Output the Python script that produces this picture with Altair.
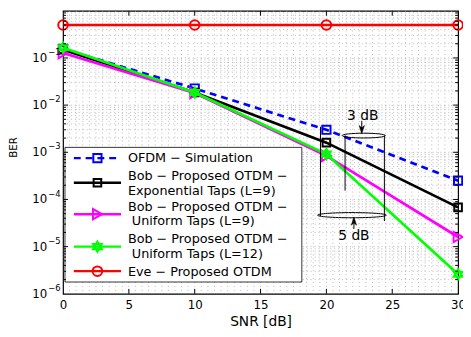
import altair as alt
import numpy as np
import pandas as pd

# ---------------- data ----------------
snr = [0, 10, 20, 30]
ber_ofdm = [0.155, 0.0225, 0.0030, 2.5e-4]
ber_exp9 = [0.150, 0.0185, 0.0016, 6.8e-5]
ber_uni9 = [0.127, 0.0180, 8.4e-4, 1.6e-5]
ber_uni12 = [0.165, 0.0185, 9.2e-4, 2.6e-6]
ber_eve = [0.5, 0.5, 0.5, 0.5]

x_ticks = [0, 5, 10, 15, 20, 25, 30]
y_decades = [-6, -5, -4, -3, -2, -1]

legend_text = [
    ["OFDM − Simulation"],
    ["Bob − Proposed OTDM −", "Exponential Taps (L=9)"],
    ["Bob − Proposed OTDM −", "Uniform Taps (L=9)"],
    ["Bob − Proposed OTDM −", "Uniform Taps (L=12)"],
    ["Eve − Proposed OTDM"],
]
annot_text = ["3 dB", "5 dB"]

# ---------------- layout helpers ----------------
FONT = "DejaVu Sans"
W, H = 402, 288
X0, Y0 = 64, 7  # reference pixel position of plot origin


def px_x(p):
    return (p - X0) / W * 30


def px_y(p):
    return 10 ** (-(p - Y0) / 48)


xs = alt.Scale(domain=[0, 30], nice=False, zero=False)
ys = alt.Scale(type="log", domain=[1e-6, 1], nice=False)
xaxis = alt.Axis(values=x_ticks, title="SNR [dB]", grid=False, ticks=False, domain=False,
                 labelFont=FONT, labelFontSize=12, labelPadding=6, labelFlush=False,
                 labelColor="black", titleFont=FONT, titleFontSize=14,
                 titleFontWeight="normal", titleColor="black", titlePadding=4)
yaxis = alt.Axis(title=None, labels=False, ticks=False, grid=False, domain=False)


def X(f):
    return alt.X(f"{f}:Q", scale=xs, axis=xaxis)


def Y(f):
    return alt.Y(f"{f}:Q", scale=ys, axis=yaxis)


layers = []

# ---------------- grid ----------------
GRID = dict(color="#a8a8a8", strokeWidth=0.8, strokeDash=[1, 3])
gx = pd.DataFrame({"x": [v for v in np.arange(0.5, 30, 0.5)]})
layers.append(alt.Chart(gx).mark_rule(**GRID).encode(x=X("x"), y=alt.value(0), y2=alt.value(H)))
gy = pd.DataFrame({"y": [m * 10.0 ** k for k in y_decades for m in range(1, 10) if not (k == -6 and m == 1)]})
layers.append(alt.Chart(gy).mark_rule(**GRID).encode(y=Y("y"), x=alt.value(0), x2=alt.value(W)))

# ---------------- series ----------------
HEX = "M0,-1L0.866,0.5L-0.866,0.5Z M0,1L0.866,-0.5L-0.866,-0.5Z"
series = [ber_ofdm, ber_exp9, ber_uni9, ber_uni12, ber_eve]
styles = [
    dict(color="#0000ff", dash=[7, 5], shape="square", size=70, fill=False),
    dict(color="#000000", dash=None, shape="square", size=60, fill=False),
    dict(color="#ff00ff", dash=None, shape="triangle-right", size=110, fill=False),
    dict(color="#00ff00", dash=None, shape=HEX, size=110, fill=True),
    dict(color="#ff0000", dash=None, shape="circle", size=95, fill=False),
]


def line_mark(st, width=2.7):
    kw = dict(color=st["color"], strokeWidth=width)
    if st["dash"]:
        kw["strokeDash"] = st["dash"]
    return kw


def point_mark(st):
    kw = dict(shape=st["shape"], size=st["size"], stroke=st["color"], strokeWidth=2, opacity=1)
    if st["fill"]:
        kw["filled"] = True
        kw["fill"] = st["color"]
    else:
        kw["filled"] = False
        kw["fill"] = "transparent"
    return kw


for vals, st in zip(series, styles):
    df = pd.DataFrame({"snr": snr, "ber": vals})
    layers.append(alt.Chart(df).mark_line(**line_mark(st)).encode(x=X("snr"), y=Y("ber")))
    layers.append(alt.Chart(df).mark_point(**point_mark(st)).encode(x=X("snr"), y=Y("ber")))

# ---------------- legend ----------------
box = pd.DataFrame({"x": [px_x(66)], "x2": [px_x(307)], "y": [px_y(146)], "y2": [px_y(283)]})
layers.append(alt.Chart(box).mark_rect(fill="white", stroke="black", strokeWidth=0.8).encode(
    x=X("x"), x2="x2", y=Y("y"), y2="y2"))

sym_y = [157, 182, 214, 247, 272]
text_y = [[157], [175, 190], [207, 221], [239, 255], [273]]
text_x = [[130], [130, 130], [130, 134], [130, 134], [130]]
for st, sy in zip(styles, sym_y):
    d = pd.DataFrame({"x": [px_x(75)], "x2": [px_x(123)], "y": [px_y(sy)]})
    layers.append(alt.Chart(d).mark_rule(**line_mark(st, 2.4)).encode(x=X("x"), x2="x2", y=Y("y")))
    p = pd.DataFrame({"x": [px_x(99)], "y": [px_y(sy)]})
    layers.append(alt.Chart(p).mark_point(**point_mark(st)).encode(x=X("x"), y=Y("y")))

lt = pd.DataFrame({
    "x": [px_x(v) for xs_ in text_x for v in xs_],
    "y": [px_y(v) for ys_ in text_y for v in ys_],
    "t": [s for t in legend_text for s in t],
})
layers.append(alt.Chart(lt).mark_text(align="left", baseline="middle", font=FONT, fontSize=13,
                                      color="black").encode(x=X("x"), y=Y("y"), text="t:N"))

# ---------------- annotations ----------------
ELL3 = "M-1,0A1,0.11,0,1,1,1,0A1,0.11,0,1,1,-1,0Z"
ELL5 = "M-1,0A1,0.075,0,1,1,1,0A1,0.075,0,1,1,-1,0Z"
for shape, cx, cy, w in [(ELL3, 370, 134, 44), (ELL5, 358, 215, 70)]:
    d = pd.DataFrame({"x": [px_x(cx)], "y": [px_y(cy)]})
    layers.append(alt.Chart(d).mark_point(shape=shape, size=w * w, filled=False, fill="transparent",
                                          stroke="black", strokeWidth=1, opacity=1).encode(
        x=X("x"), y=Y("y")))

vl = pd.DataFrame({
    "x": [px_x(351), px_x(391), px_x(326), px_x(368), px_x(360)],
    "y": [px_y(134), px_y(134), px_y(125), px_y(119), px_y(221)],
    "y2": [px_y(190), px_y(221), px_y(216), px_y(128), px_y(229)],
})
layers.append(alt.Chart(vl).mark_rule(color="black", strokeWidth=1).encode(x=X("x"), y=Y("y"), y2="y2"))

ARR_DN = "M0,1L-0.65,-1L0,-0.45L0.65,-1Z"
ARR_UP = "M0,-1L-0.65,1L0,0.45L0.65,1Z"
for shape, cx, cy in [(ARR_DN, 368, 128), (ARR_UP, 360, 221)]:
    d = pd.DataFrame({"x": [px_x(cx)], "y": [px_y(cy)]})
    layers.append(alt.Chart(d).mark_point(shape=shape, size=70, filled=True, fill="black",
                                          stroke="black", strokeWidth=0.5, opacity=1).encode(
        x=X("x"), y=Y("y")))

at = pd.DataFrame({"x": [px_x(369), px_x(360)], "y": [px_y(114), px_y(236)], "t": annot_text})
layers.append(alt.Chart(at).mark_text(align="center", baseline="middle", font=FONT, fontSize=14,
                                      color="black").encode(x=X("x"), y=Y("y"), text="t:N"))

# ---------------- ticks ----------------
tx = pd.DataFrame({"x": x_ticks[1:-1]})
layers.append(alt.Chart(tx).mark_rule(color="black", strokeWidth=1).encode(
    x=X("x"), y=alt.value(H), y2=alt.value(H - 5)))
layers.append(alt.Chart(tx).mark_rule(color="black", strokeWidth=1).encode(
    x=X("x"), y=alt.value(0), y2=alt.value(5)))
ty_major = pd.DataFrame({"y": [10.0 ** k for k in y_decades[1:]]})
ty_minor = pd.DataFrame({"y": [m * 10.0 ** k for k in y_decades for m in range(2, 10)]})
for d, ln in [(ty_major, 5), (ty_minor, 3)]:
    layers.append(alt.Chart(d).mark_rule(color="black", strokeWidth=1).encode(
        y=Y("y"), x=alt.value(0), x2=alt.value(ln)))
    layers.append(alt.Chart(d).mark_rule(color="black", strokeWidth=1).encode(
        y=Y("y"), x=alt.value(W), x2=alt.value(W - ln)))

# ---------------- y tick labels & title ----------------
yl = pd.DataFrame({"y": [10.0 ** k for k in y_decades], "base": ["10"] * len(y_decades),
                   "exp": ["−" + str(-k) for k in y_decades]})
layers.append(alt.Chart(yl).mark_text(align="right", baseline="middle", font=FONT, fontSize=12,
                                      color="black").encode(x=alt.value(-16), y=Y("y"), text="base:N"))
layers.append(alt.Chart(yl).mark_text(align="left", baseline="middle", font=FONT, fontSize=8.5,
                                      dy=-6, color="black").encode(x=alt.value(-15), y=Y("y"), text="exp:N"))
bt = pd.DataFrame({"t": ["BER"]})
layers.append(alt.Chart(bt).mark_text(align="center", baseline="middle", font=FONT, fontSize=10.5,
                                      angle=270, color="black").encode(
    x=alt.value(-50), y=alt.value(139), text="t:N"))

chart = alt.layer(*layers).properties(
    width=W, height=H,
    autosize=alt.AutoSizeParams(type="none"),
    padding={"left": 56, "top": 0, "right": 5, "bottom": 33},
).configure_view(stroke="black", strokeWidth=1.2)

chart.save("out.html", embed_options={"renderer": "svg", "actions": False})
